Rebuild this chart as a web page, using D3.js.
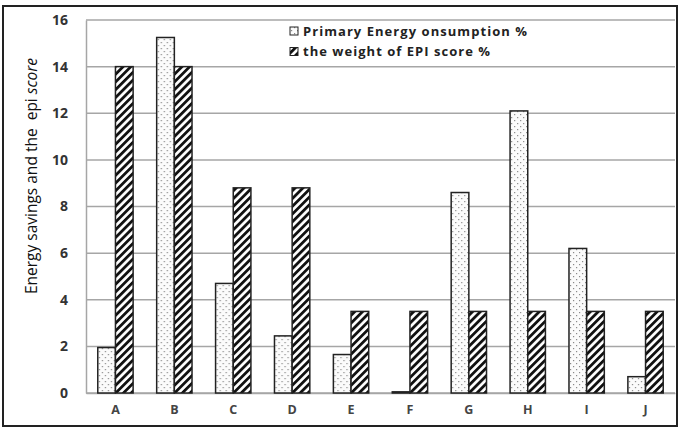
<!DOCTYPE html>
<html>
<head>
<meta charset="utf-8">
<script src="https://cdn.jsdelivr.net/npm/d3@7"></script>
<style>
  body { margin: 0; background: #fff; }
  svg { display: block; }
  text { font-family: "Open Sans", sans-serif; }
</style>
</head>
<body>
<svg id="chart"></svg>
<script>
(() => {

  const categories = ['A', 'B', 'C', 'D', 'E', 'F', 'G', 'H', 'I', 'J'];
  const primaryEnergy = [1.95, 15.25, 4.7, 2.45, 1.65, 0.05, 8.6, 12.1, 6.2, 0.7];
  const epiWeight = [14, 14, 8.8, 8.8, 3.5, 3.5, 3.5, 3.5, 3.5, 3.5];
  const yTicks = [0, 2, 4, 6, 8, 10, 12, 14, 16];
  const seriesNames = ['Primary Energy onsumption %', 'the weight of EPI score %'];

  const svgWidth = 683;
  const svgHeight = 429;
  const margin = { top: 20, right: 8, bottom: 36, left: 86 };

  const svg = d3.select('#chart')
    .attr('width', svgWidth)
    .attr('height', svgHeight);

  const defs = svg.append('defs');

  // dotted fill
  const dots = defs.append('pattern')
    .attr('id', 'dots')
    .attr('patternUnits', 'userSpaceOnUse')
    .attr('width', 6)
    .attr('height', 6);
  dots.append('rect').attr('width', 6).attr('height', 6).attr('fill', '#fbfbfb');
  dots.append('rect').attr('x', 1).attr('y', 1).attr('width', 1.2).attr('height', 1.2).attr('fill', '#888');
  dots.append('rect').attr('x', 4).attr('y', 4).attr('width', 1.2).attr('height', 1.2).attr('fill', '#888');

  // diagonal hatch
  const hatch = defs.append('pattern')
    .attr('id', 'hatch')
    .attr('patternUnits', 'userSpaceOnUse')
    .attr('width', 5.5)
    .attr('height', 5.5)
    .attr('patternTransform', 'rotate(45)');
  hatch.append('rect').attr('width', 5.5).attr('height', 5.5).attr('fill', '#fff');
  hatch.append('rect').attr('x', 0).attr('width', 2.8).attr('height', 5.5).attr('fill', '#111');

  const width = svgWidth - margin.left - margin.right;
  const height = svgHeight - margin.top - margin.bottom;

  const g = svg.append('g')
    .attr('transform', `translate(${margin.left},${margin.top})`);

  const x = d3.scaleBand()
    .domain(categories)
    .range([0, width])
    .paddingInner(0.4)
    .paddingOuter(0.2);

  const xSub = d3.scaleBand()
    .domain([0, 1])
    .range([0, x.bandwidth()]);

  const y = d3.scaleLinear()
    .domain([0, 16])
    .range([height, 0]);

  // gridlines
  g.append('g')
    .selectAll('line')
    .data(yTicks)
    .enter()
    .append('line')
    .attr('x1', 0)
    .attr('x2', width)
    .attr('y1', d => y(d))
    .attr('y2', d => y(d))
    .attr('stroke', '#a6a6a6')
    .attr('stroke-width', 1.5);

  // axes
  const yAxis = g.append('g')
    .call(d3.axisLeft(y).tickValues(yTicks).tickSize(0).tickPadding(18));
  yAxis.select('.domain').attr('stroke', '#a6a6a6').attr('stroke-width', 1.5);
  yAxis.selectAll('text')
    .attr('font-size', 14)
    .attr('font-weight', 'bold')
    .attr('fill', '#333');

  const xAxis = g.append('g')
    .attr('transform', `translate(0,${height})`)
    .call(d3.axisBottom(x).tickSize(0).tickPadding(12));
  xAxis.select('.domain').attr('stroke', '#a6a6a6').attr('stroke-width', 1.5);
  xAxis.selectAll('text')
    .attr('font-size', 12.5)
    .attr('font-weight', 'bold')
    .attr('fill', '#444');

  const series = [primaryEnergy, epiWeight];
  const fills = ['url(#dots)', 'url(#hatch)'];

  const groups = g.selectAll('.group')
    .data(categories)
    .enter()
    .append('g')
    .attr('transform', d => `translate(${x(d)},0)`);

  groups.selectAll('rect')
    .data((d, i) => series.map((s, k) => ({ k, value: s[i] })))
    .enter()
    .append('rect')
    .attr('x', d => xSub(d.k))
    .attr('y', d => y(d.value))
    .attr('width', xSub.bandwidth())
    .attr('height', d => height - y(d.value))
    .attr('fill', d => fills[d.k])
    .attr('stroke', '#222')
    .attr('stroke-width', 1.5);

  // legend
  const legendWidths = [224, 187];
  const legend = svg.append('g')
    .attr('transform', 'translate(290,23)');
  const legendItems = legend.selectAll('g')
    .data(seriesNames)
    .enter()
    .append('g')
    .attr('transform', (d, i) => `translate(0,${i * 20.5})`);
  legendItems.append('rect')
    .attr('width', 8)
    .attr('height', 8)
    .attr('y', 4)
    .attr('fill', (d, i) => fills[i])
    .attr('stroke', '#222')
    .attr('stroke-width', 1);
  legendItems.append('text')
    .attr('x', 13)
    .attr('y', 12.5)
    .attr('font-size', 13)
    .attr('font-weight', 'bold')
    .attr('fill', '#222')
    .attr('textLength', (d, i) => legendWidths[i])
    .attr('lengthAdjust', 'spacing')
    .text(d => d);

  // y axis title
  const title = svg.append('text')
    .attr('transform', 'translate(37,176) rotate(-90)')
    .attr('text-anchor', 'middle')
    .attr('font-size', 15.5)
    .attr('fill', '#111')
    .style('white-space', 'pre');
  title.append('tspan').text('Energy savings and the  epi ');
  title.append('tspan').attr('font-style', 'italic').text('score');

  // outer border
  svg.append('rect')
    .attr('x', 3)
    .attr('y', 6)
    .attr('width', 674)
    .attr('height', 420)
    .attr('fill', 'none')
    .attr('stroke', '#222')
    .attr('stroke-width', 2);

})();
</script>
</body>
</html>
